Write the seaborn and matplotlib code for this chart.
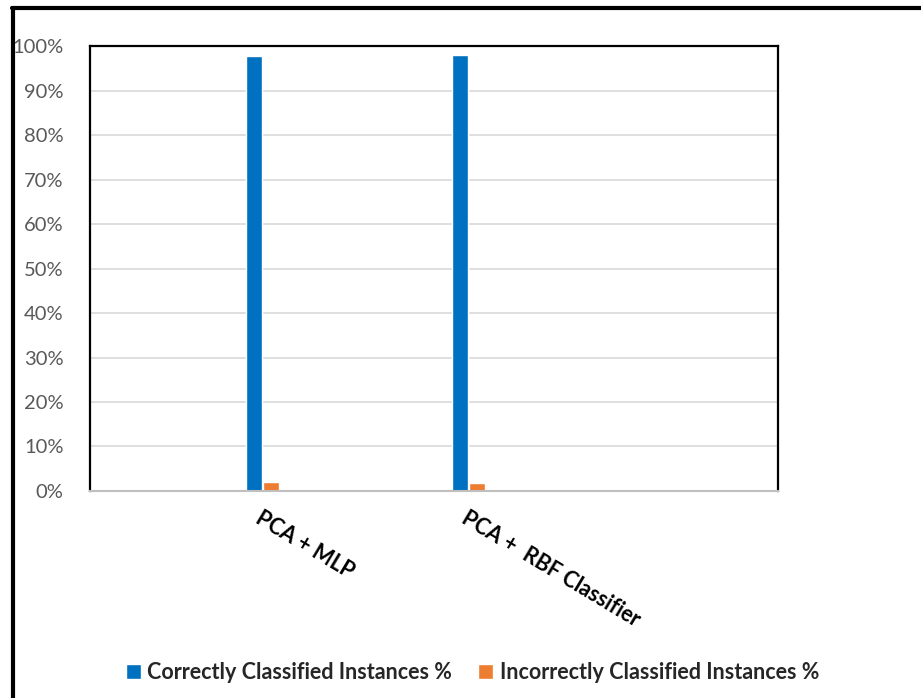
import pandas as pd
import seaborn as sns
import matplotlib.pyplot as plt
from matplotlib.lines import Line2D
from matplotlib.ticker import PercentFormatter

# Chart data
methods = ["PCA + MLP", "PCA +  RBF Classifier"]
series_names = ["Correctly Classified Instances %", "Incorrectly Classified Instances %"]
correct = [97.7, 97.9]
incorrect = [2.0, 1.8]
palette = ["#0070C0", "#ED7D31"]

df = pd.DataFrame({
    "method": methods * 2,
    "series": [series_names[0]] * len(methods) + [series_names[1]] * len(methods),
    "value": correct + incorrect,
})

sns.set_style("white")
plt.rcParams['font.family'] = ['Lato', 'DejaVu Sans']

fig = plt.figure(figsize=(9.21, 6.98), dpi=100)
ax = fig.add_axes([0.0977, 0.2966, 0.747, 0.6374])

sns.barplot(data=df, x="method", y="value", hue="series", palette=palette,
            width=0.17, gap=0.09, saturation=1, ax=ax, legend=True)

ax.set_ylim(0, 100)
ax.set_xlim(-0.837, 2.502)
ax.set_yticks(range(0, 101, 10))
ax.yaxis.set_major_formatter(PercentFormatter(decimals=0))
ax.grid(axis='y', color='#d9d9d9', linewidth=1.2)
ax.set_axisbelow(True)
ax.set_xlabel("")
ax.set_ylabel("")
ax.tick_params(axis='y', length=0, labelsize=14.5, labelcolor='#595959', pad=19)
ax.tick_params(axis='x', length=0, pad=12)
ax.set_xticks(range(len(methods)))
ax.set_xticklabels(methods, rotation=-31, ha='left', rotation_mode='anchor',
                   fontsize=15.5, fontweight='bold', color='black')

for side in ['top', 'left', 'right']:
    ax.spines[side].set_color('black')
    ax.spines[side].set_linewidth(1.6)
ax.spines['bottom'].set_color('#bfbfbf')
ax.spines['bottom'].set_linewidth(1.5)

# legend at the bottom of the figure
handles, labels = ax.get_legend_handles_labels()
ax.get_legend().remove()
fig.legend(handles, labels, loc='lower center', bbox_to_anchor=(0.513, -0.006), ncol=2,
           frameon=False, handlelength=0.7, handleheight=0.7, handletextpad=0.3,
           columnspacing=1.2, prop={'weight': 'bold', 'size': 15.5})

# outer frame (left and top edges visible)
fig.add_artist(Line2D([0.0145, 0.0145], [0, 0.989], color='black', linewidth=3, transform=fig.transFigure))
fig.add_artist(Line2D([0.013, 1.0], [0.989, 0.989], color='black', linewidth=3, transform=fig.transFigure))

fig.savefig("out.png", dpi=100)
